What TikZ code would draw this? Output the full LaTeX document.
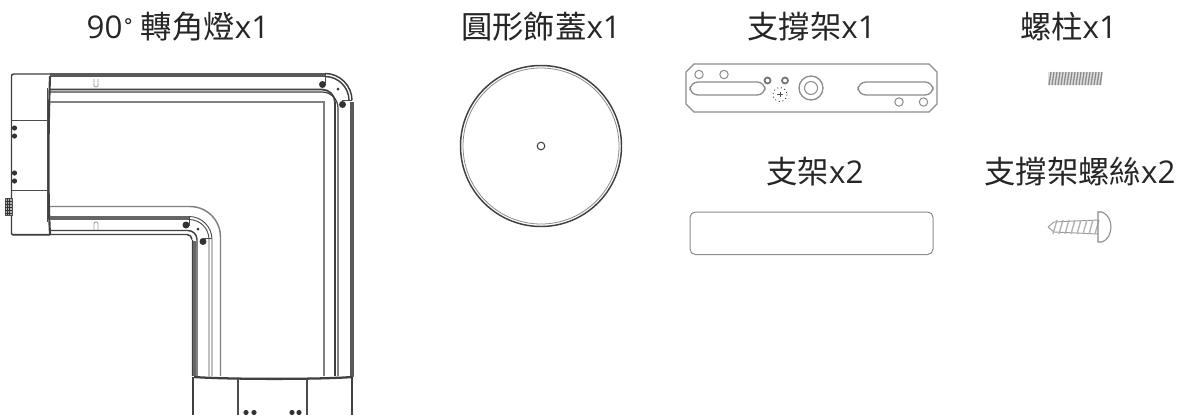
\documentclass[tikz,border=0pt]{standalone}
\usepackage{fontspec}
\setmainfont{Noto Sans CJK TC}
\newfontfamily\latinf{Open Sans}
\newfontfamily\degf{DejaVu Sans}
\newcommand{\lat}[1]{{\latinf #1}}
\tikzset{
 lbl/.style={font=\fontsize{23.5}{25}\selectfont,text=black!85,inner sep=0pt,anchor=center},
 dk/.style={draw=black!75,line width=0.75pt},
 thick band/.style={draw=black!65,line width=3pt},
 md/.style={draw=black!70,line width=0.7pt},
 gr/.style={draw=black!45,line width=0.75pt},
 lg/.style={draw=black!50,line width=0.7pt},
 pale/.style={draw=black!40,line width=0.7pt},
}
\begin{document}
\begin{tikzpicture}[x=0.75pt,y=-0.75pt]
\useasboundingbox (0,0) rectangle (1189,415);
\fill[white] (0,0) rectangle (1189,415);
% labels
\node[lbl] (a) at (178,27) {\lat{90}{\degf\fontsize{17}{20}\selectfont ˚} 轉角燈\lat{x1}};
\node[lbl] (b) at (541,27) {圓形飾蓋\lat{x1}};
\node[lbl] (c) at (811.5,27) {支撐架\lat{x1}};
\node[lbl] (d) at (1068.5,27) {螺柱\lat{x1}};
\node[lbl] (e) at (815,172) {支架\lat{x2}};
\node[lbl] (f) at (1080,172) {支撐架螺絲\lat{x2}};
% corner lamp: left housing
\draw[dk,line width=1.1pt,rounded corners=1.5pt] (50,74) -- (11.5,74) -- (11.5,235) -- (50,235);
\draw[md] (11.5,120) -- (47,120);
\draw[md] (11.5,190) -- (47,190);
\draw[dk,line width=1.6pt] (50,76) .. controls (48.5,120) and (47.5,190) .. (50,234);
\draw[md] (47,88) -- (47,222);
% dots of the housing
\foreach \y in {128,136,173,181}{\fill[black!80] (14.5,\y) circle (2.6);}
% side connector
\draw[md,fill=black!30] (5,198) rectangle (12,215);
\foreach \y in {201,204,207,210,213}{\draw[black!80,line width=0.6pt] (5,\y) -- (12,\y);}
\foreach \x in {7,9.5}{\draw[black!80,line width=0.6pt] (\x,198) -- (\x,215);}
% outer band
\draw[thick band] (50,75) -- (325,75);
\draw[dk,line width=1.1pt] (325,73.5) arc[start angle=-90,end angle=0,radius=27] (352,100.5);
\draw[dk,line width=1.1pt] (325,76.5) arc[start angle=-90,end angle=0,radius=24] (349,100.5);
\draw[thick band] (351.5,102) -- (351.5,377);
% upper inner double line and its bend
\draw[dk,line width=1.3pt] (50,89.5) -- (322,89.5) arc[start angle=-90,end angle=0,radius=13] (335,102.5) -- (335,376);
\draw[dk,line width=0.9pt] (50,92) -- (322,92) arc[start angle=-90,end angle=0,radius=16] (338,108) -- (338,376);
% inner gray square
\draw[lg,line width=1.1pt] (50,102) -- (324,102) -- (324,376);
% lower gray edge
\draw[lg,line width=1.1pt] (50,206.5) -- (190,206.5) arc[start angle=-90,end angle=0,radius=30.5] (220.5,237) -- (220.5,376);
% lower band
\draw[draw=black!60,line width=2.8pt] (50,218) -- (189,218);
\draw[md] (189,216.5) arc[start angle=-90,end angle=0,radius=23] (212,239.5) -- (212,376);
\draw[md] (189,219.5) arc[start angle=-90,end angle=0,radius=20] (209,239.5) -- (209,376);
% bottom band
\draw[dk,line width=1.1pt] (50,230.5) -- (188,230.5) arc[start angle=-90,end angle=0,radius=9] (197,239.5) -- (197,376);
\draw[dk,line width=1.1pt] (12,234.5) -- (187,234.5) arc[start angle=-90,end angle=0,radius=5] (192.5,240) -- (192.5,376);
\draw[draw=black!60,line width=2.8pt] (194.5,241) -- (194.5,376);
% slots
\draw[pale,rounded corners=1pt] (94,79) -- (94,87) -- (98,87) -- (98,79);
\draw[pale,rounded corners=1pt] (94,230) -- (94,222) -- (98,222) -- (98,230);
% screws at bends
\fill[black!80] (322.5,84.5) circle (3.5);
\fill[black!80] (342.5,104.5) circle (3.5);
\fill[black!80] (338,89) circle (1.5);
\fill[black!80] (186,225) circle (3.5);
\fill[black!80] (203,241.5) circle (3.5);
\fill[black!80] (198,229) circle (1.5);
\draw[md] (325,73.5) -- (325,84);
\draw[md] (342,100.5) -- (352,100.5);
\draw[md] (189,216.5) -- (189,226);
\draw[md] (202,238.5) -- (212,238.5);
% bottom housing
\draw[dk,line width=1.7pt] (194,377) .. controls (230,379.5) and (320,379.5) .. (352,377);
\draw[dk,line width=1.1pt] (193,377) -- (193,415);
\draw[dk,line width=1.1pt] (352,377) -- (352,415);
\draw[md,line width=1pt] (238,379) -- (238,415);
\draw[md,line width=1pt] (307,379) -- (307,415);
\foreach \x in {246,254,292,299}{\fill[black!80] (\x,412.5) circle (2.6);}
% round cover
\draw[dk,line width=1.1pt] (541,146) circle[radius=80.5];
\draw[draw=black!45,line width=0.6pt] (541,146) circle[radius=78];
\draw[dk,line width=0.8pt] (541,146) circle[radius=3.8];
% support plate
\draw[gr,line width=1pt] (694,64) -- (929,64) -- (937,72) -- (937,104) -- (929,112) -- (694,112) -- (686,104) -- (686,72) -- cycle;
\draw[gr,line width=1pt,rounded corners=6pt] (690,82) rectangle (765,95);
\draw[gr,line width=1pt,rounded corners=6pt] (858,82) rectangle (933,95);
\foreach \x/\y in {699/74.5,724/74.5,899/102,923.5/102}{\draw[gr] (\x,\y) circle[radius=4.2];}
\foreach \x/\y in {767.5/80.5,785/80.5}{\draw[draw=black!55,line width=1.3pt] (\x,\y) circle[radius=3];}
\draw[gr,line width=1pt] (811,88) circle[radius=12];
\draw[gr] (811,88) circle[radius=6.5];
\draw[black!80,line width=0.6pt,dash pattern=on 0.8pt off 2pt] (780,94.5) circle[radius=7];
\draw[black!70,line width=0.4pt] (777,94.5) -- (783,94.5) (780,92) -- (780,97);
% bar
\draw[gr] (690,212) [rounded corners=4pt] rectangle (933,254.5);
% stud
\fill[black!12] (1048,72) rectangle (1102,85);
\foreach \i in {0,...,17}{\draw[black!45,line width=1pt] ({1049+3*\i},85) -- ({1051+3*\i},72);}
% screw
\draw[pale] (1048,227) -- (1054,222) -- (1098,220);
\draw[pale] (1048,227) -- (1054,232) -- (1098,234);
\foreach \i in {0,...,7}{\draw[black!30,line width=1pt] ({1053+6*\i},234) -- ({1057+6*\i},220);}
\draw[draw=black!45,line width=0.8pt] (1098,212) -- (1102,212) .. controls (1108,214) and (1111,221) .. (1111,227) .. controls (1111,233) and (1108,240) .. (1102,242) -- (1098,242) -- cycle;
\end{tikzpicture}
\end{document}
